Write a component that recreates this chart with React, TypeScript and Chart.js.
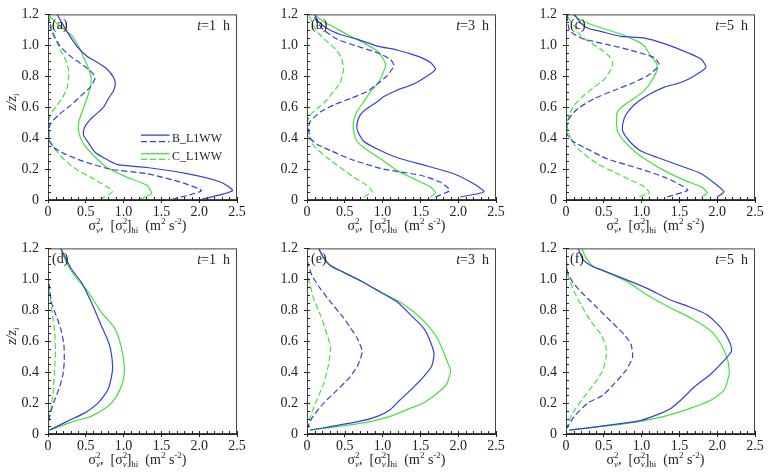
import React, { useEffect, useRef } from "react";
import { Chart, registerables } from "chart.js";

Chart.register(...registerables);

type Pt = [number, number]; // [sigma^2 value, z/zi]

// ---------- tick labels / categories ----------
const xTickValues = [0, 0.5, 1.0, 1.5, 2.0, 2.5];
const xTickLabels = ["0", "0.5", "1.0", "1.5", "2.0", "2.5"];
const yTickValues = [0, 0.2, 0.4, 0.6, 0.8, 1.0, 1.2];
const yTickLabels = ["0", "0.2", "0.4", "0.6", "0.8", "1.0", "1.2"];
const panelLabels = ["(a)", "(b)", "(c)", "(d)", "(e)", "(f)"];
const panelHours = ["1", "3", "5", "1", "3", "5"];
const seriesNames = ["B_L1WW", "C_L1WW"];

// ---------- panel (a) t=1 h ----------
const aBlueSolid: Pt[] = [[2.03,0.004],[2.44,0.06],[2.28,0.116],[1.84,0.17],[1.31,0.21],[0.91,0.23],[0.73,0.275],[0.625,0.307],[0.52,0.38],[0.47,0.42],[0.48,0.466],[0.54,0.51],[0.625,0.55],[0.735,0.6],[0.8,0.656],[0.87,0.71],[0.89,0.75],[0.87,0.79],[0.78,0.847],[0.65,0.89],[0.515,0.93],[0.38,0.995],[0.25,1.09],[0.12,1.2]];
const aBlueDash: Pt[] = [[1.64,0.004],[2.03,0.06],[1.75,0.116],[1.31,0.17],[0.82,0.2],[0.47,0.25],[0.21,0.3],[0.075,0.34],[0.02,0.38],[0.01,0.42],[0.03,0.49],[0.14,0.55],[0.295,0.61],[0.45,0.68],[0.56,0.73],[0.625,0.79],[0.58,0.825],[0.47,0.87],[0.295,0.93],[0.16,0.995],[0.05,1.09],[0.0,1.19]];
const aGreenSolid: Pt[] = [[1.2,0.004],[1.37,0.04],[1.31,0.095],[1.04,0.148],[0.78,0.21],[0.65,0.265],[0.54,0.32],[0.45,0.38],[0.405,0.445],[0.405,0.5],[0.45,0.57],[0.515,0.656],[0.56,0.73],[0.57,0.79],[0.54,0.847],[0.49,0.9],[0.43,0.97],[0.32,1.06],[0.25,1.09],[0.12,1.14],[0.02,1.19]];
const aGreenDash: Pt[] = [[0.69,0.004],[0.85,0.053],[0.78,0.085],[0.56,0.148],[0.34,0.21],[0.185,0.275],[0.075,0.34],[0.03,0.38],[0.01,0.42],[0.01,0.49],[0.03,0.55],[0.1,0.6],[0.185,0.656],[0.25,0.72],[0.27,0.78],[0.27,0.847],[0.23,0.91],[0.16,0.97],[0.1,1.04],[0.05,1.11],[0.01,1.19]];

// ---------- panel (b) t=3 h ----------
const bBlueSolid: Pt[] = [[2.03,0.02],[2.34,0.053],[2.2,0.106],[1.94,0.17],[1.59,0.22],[1.19,0.275],[0.93,0.33],[0.75,0.38],[0.67,0.445],[0.66,0.49],[0.705,0.55],[0.79,0.59],[0.93,0.635],[1.01,0.667],[1.19,0.71],[1.41,0.75],[1.63,0.815],[1.7,0.847],[1.63,0.89],[1.46,0.93],[1.19,0.97],[0.93,0.995],[0.66,1.04],[0.44,1.07],[0.26,1.11],[0.13,1.165],[0.11,1.2]];
const bBlueDash: Pt[] = [[1.7,0.02],[1.89,0.063],[1.76,0.116],[1.5,0.16],[1.01,0.2],[0.57,0.265],[0.31,0.32],[0.13,0.36],[0.044,0.4],[0.02,0.466],[0.044,0.51],[0.18,0.57],[0.35,0.614],[0.57,0.656],[0.79,0.7],[0.93,0.75],[1.06,0.804],[1.15,0.87],[1.1,0.91],[0.93,0.952],[0.66,0.995],[0.4,1.04],[0.22,1.1],[0.13,1.153],[0.09,1.2]];
const bGreenSolid: Pt[] = [[1.63,0.02],[1.7,0.047],[1.63,0.085],[1.41,0.138],[1.19,0.19],[1.01,0.254],[0.88,0.296],[0.75,0.34],[0.66,0.38],[0.617,0.445],[0.617,0.51],[0.66,0.57],[0.75,0.635],[0.84,0.7],[0.93,0.75],[0.99,0.804],[1.04,0.87],[1.01,0.91],[0.93,0.963],[0.75,1.016],[0.53,1.07],[0.35,1.12],[0.22,1.153],[0.09,1.2]];
const bGreenDash: Pt[] = [[0.75,0.02],[0.86,0.053],[0.79,0.095],[0.617,0.148],[0.44,0.21],[0.26,0.275],[0.11,0.34],[0.044,0.38],[0.02,0.42],[0.0,0.49],[0.044,0.55],[0.13,0.59],[0.24,0.635],[0.35,0.7],[0.44,0.76],[0.485,0.847],[0.46,0.91],[0.4,0.963],[0.26,1.027],[0.13,1.09],[0.066,1.153],[0.02,1.2]];

// ---------- panel (c) t=5 h ----------
const cBlueSolid: Pt[] = [[2.0,0.02],[2.09,0.053],[2.0,0.095],[1.79,0.17],[1.52,0.22],[1.21,0.275],[0.99,0.317],[0.84,0.38],[0.75,0.445],[0.75,0.49],[0.79,0.55],[0.9,0.614],[1.08,0.677],[1.3,0.73],[1.52,0.76],[1.7,0.804],[1.85,0.857],[1.79,0.91],[1.61,0.952],[1.34,1.005],[1.04,1.047],[0.73,1.058],[0.46,1.09],[0.29,1.11],[0.2,1.143],[0.11,1.2]];
const cBlueDash: Pt[] = [[1.34,0.02],[1.61,0.063],[1.52,0.095],[1.3,0.148],[0.99,0.2],[0.55,0.265],[0.24,0.34],[0.09,0.38],[0.02,0.42],[0.0,0.466],[0.044,0.53],[0.154,0.59],[0.375,0.656],[0.64,0.71],[0.9,0.76],[1.08,0.804],[1.19,0.847],[1.23,0.878],[1.17,0.92],[0.9,0.963],[0.55,1.005],[0.24,1.04],[0.11,1.07],[0.044,1.1],[0.02,1.165],[0.02,1.2]];
const cGreenSolid: Pt[] = [[1.79,0.02],[1.87,0.047],[1.79,0.085],[1.57,0.127],[1.3,0.19],[1.08,0.254],[0.9,0.317],[0.77,0.38],[0.68,0.445],[0.67,0.53],[0.68,0.57],[0.77,0.614],[0.9,0.656],[1.04,0.71],[1.12,0.76],[1.21,0.847],[1.19,0.89],[1.12,0.93],[1.04,0.995],[0.9,1.037],[0.68,1.08],[0.42,1.12],[0.29,1.143],[0.154,1.175],[0.09,1.2]];
const cGreenDash: Pt[] = [[0.97,0.02],[1.1,0.047],[1.04,0.085],[0.86,0.127],[0.64,0.18],[0.42,0.233],[0.24,0.296],[0.11,0.36],[0.044,0.42],[0.013,0.49],[0.044,0.55],[0.11,0.614],[0.24,0.677],[0.375,0.73],[0.51,0.783],[0.595,0.847],[0.617,0.89],[0.57,0.93],[0.46,0.974],[0.33,1.016],[0.2,1.058],[0.13,1.11],[0.044,1.165],[0.02,1.2]];

// ---------- panel (d) t=1 h ----------
const dBlueSolid: Pt[] = [[0.02,0.025],[0.26,0.083],[0.48,0.135],[0.66,0.2],[0.79,0.284],[0.85,0.4],[0.85,0.474],[0.81,0.58],[0.7,0.707],[0.57,0.855],[0.44,0.982],[0.31,1.067],[0.22,1.15],[0.17,1.2]];
const dBlueDash: Pt[] = [[0.0,0.03],[0.02,0.114],[0.088,0.22],[0.154,0.305],[0.2,0.39],[0.215,0.474],[0.21,0.58],[0.165,0.686],[0.088,0.79],[0.044,0.855],[0.022,0.94],[0.0,1.045],[0.0,1.2]];
const dGreenSolid: Pt[] = [[0.02,0.025],[0.35,0.083],[0.57,0.114],[0.79,0.178],[0.9,0.24],[0.99,0.336],[1.01,0.43],[0.97,0.56],[0.88,0.686],[0.7,0.79],[0.53,0.92],[0.35,1.024],[0.24,1.11],[0.17,1.2]];
const dGreenDash: Pt[] = [[0.0,0.03],[0.035,0.157],[0.066,0.262],[0.088,0.41],[0.097,0.537],[0.088,0.665],[0.053,0.79],[0.022,0.898],[0.0,0.982],[0.0,1.2]];

// ---------- panel (e) t=3 h ----------
const eBlueSolid: Pt[] = [[0.044,0.025],[0.705,0.083],[0.93,0.114],[1.1,0.157],[1.23,0.22],[1.37,0.284],[1.54,0.37],[1.65,0.44],[1.68,0.516],[1.63,0.6],[1.54,0.686],[1.37,0.77],[1.19,0.855],[0.97,0.918],[0.75,0.98],[0.485,1.045],[0.31,1.088],[0.22,1.14],[0.154,1.2]];
const eBlueDash: Pt[] = [[0.0,0.03],[0.066,0.104],[0.22,0.2],[0.4,0.284],[0.57,0.37],[0.68,0.453],[0.73,0.537],[0.66,0.622],[0.485,0.75],[0.31,0.855],[0.176,0.94],[0.066,1.024],[0.022,1.088],[0.0,1.13],[0.0,1.2]];
const eGreenSolid: Pt[] = [[0.044,0.025],[0.75,0.072],[1.1,0.114],[1.37,0.167],[1.54,0.2],[1.72,0.262],[1.85,0.326],[1.9,0.41],[1.85,0.474],[1.81,0.527],[1.72,0.622],[1.59,0.707],[1.41,0.79],[1.19,0.865],[0.97,0.918],[0.75,0.98],[0.485,1.045],[0.29,1.1],[0.2,1.15],[0.154,1.2]];
const eGreenDash: Pt[] = [[0.0,0.03],[0.044,0.114],[0.13,0.22],[0.22,0.326],[0.287,0.453],[0.31,0.56],[0.265,0.643],[0.176,0.77],[0.088,0.875],[0.044,0.96],[0.01,1.024],[0.0,1.2]];

// ---------- panel (f) t=5 h ----------
const fBlueSolid: Pt[] = [[0.044,0.025],[0.95,0.083],[1.21,0.125],[1.39,0.167],[1.52,0.22],[1.7,0.305],[1.92,0.39],[2.09,0.474],[2.19,0.537],[2.16,0.6],[2.05,0.686],[1.87,0.77],[1.63,0.823],[1.39,0.865],[1.08,0.94],[0.82,0.993],[0.55,1.045],[0.33,1.088],[0.22,1.13],[0.163,1.2]];
const fBlueDash: Pt[] = [[0.0,0.03],[0.11,0.114],[0.287,0.2],[0.485,0.25],[0.64,0.326],[0.79,0.41],[0.88,0.495],[0.86,0.58],[0.77,0.643],[0.595,0.728],[0.375,0.834],[0.2,0.918],[0.088,0.982],[0.022,1.045],[0.01,1.088],[0.0,1.2]];
const fGreenSolid: Pt[] = [[0.044,0.025],[0.86,0.072],[1.3,0.114],[1.65,0.167],[1.92,0.22],[2.09,0.284],[2.16,0.39],[2.14,0.474],[2.05,0.58],[1.92,0.665],[1.65,0.75],[1.39,0.813],[1.08,0.897],[0.82,0.982],[0.55,1.045],[0.35,1.088],[0.265,1.14],[0.207,1.2]];
const fGreenDash: Pt[] = [[0.0,0.03],[0.088,0.135],[0.24,0.24],[0.375,0.326],[0.485,0.41],[0.53,0.495],[0.53,0.56],[0.463,0.643],[0.33,0.728],[0.2,0.834],[0.11,0.918],[0.044,1.0],[0.013,1.045],[0.0,1.2]];

const panelSeries: Pt[][][] = [
  [aBlueSolid, aBlueDash, aGreenSolid, aGreenDash],
  [bBlueSolid, bBlueDash, bGreenSolid, bGreenDash],
  [cBlueSolid, cBlueDash, cGreenSolid, cGreenDash],
  [dBlueSolid, dBlueDash, dGreenSolid, dGreenDash],
  [eBlueSolid, eBlueDash, eGreenSolid, eGreenDash],
  [fBlueSolid, fBlueDash, fGreenSolid, fGreenDash],
];

// ---------- styling / layout ----------
const BLUE = "#3442d2";
const GREEN = "#45e23c";
const TEXT = "#222";
const FRAME = "#444";
const FONT = '"Liberation Serif", "Times New Roman", serif';
const CANVAS_W = 248;
const CANVAS_H = 238;
const panelPos: { left: number; top: number }[] = [
  { left: 0, top: 0 },
  { left: 259, top: 0 },
  { left: 518, top: 0 },
  { left: 0, top: 234 },
  { left: 259, top: 234 },
  { left: 518, top: 234 },
];

type Run = { t: string; s: number; dy: number; it?: boolean; noAdv?: boolean };

function runFont(r: Run) {
  return `${r.it ? "italic " : ""}${r.s}px ${FONT}`;
}

function drawRuns(ctx: CanvasRenderingContext2D, runs: Run[], x: number, y: number, align: "left" | "center" | "right") {
  ctx.save();
  ctx.textBaseline = "alphabetic";
  ctx.textAlign = "left";
  let total = 0;
  for (const r of runs) {
    ctx.font = runFont(r);
    if (!r.noAdv) total += ctx.measureText(r.t).width;
  }
  let cx = align === "left" ? x : align === "center" ? x - total / 2 : x - total;
  for (const r of runs) {
    ctx.font = runFont(r);
    ctx.fillText(r.t, cx, y + r.dy);
    if (!r.noAdv) cx += ctx.measureText(r.t).width;
  }
  ctx.restore();
}

const xTitleRuns: Run[] = [
  { t: "σ", s: 14, dy: 0 },
  { t: "2", s: 9, dy: -6, noAdv: true },
  { t: "v", s: 9, dy: 3, it: true },
  { t: ",  [σ", s: 14, dy: 0 },
  { t: "2", s: 9, dy: -6, noAdv: true },
  { t: "v", s: 9, dy: 3, it: true },
  { t: "]", s: 14, dy: 0 },
  { t: "hi", s: 9, dy: 3 },
  { t: "  (m", s: 14, dy: 0 },
  { t: "2", s: 9, dy: -6 },
  { t: " s", s: 14, dy: 0 },
  { t: "-2", s: 9, dy: -6 },
  { t: ")", s: 14, dy: 0 },
];

const yTitleRuns: Run[] = [
  { t: "z/z", s: 14, dy: 0, it: true },
  { t: "i", s: 9, dy: 3, it: true },
];

function makeDecorPlugin(idx: number) {
  return {
    id: "decor" + idx,
    afterDraw(chart: any) {
      const ctx: CanvasRenderingContext2D = chart.ctx;
      const { left, right, top, bottom } = chart.chartArea;
      const xs = chart.scales.x;
      const ys = chart.scales.y;
      ctx.save();
      // frame
      ctx.strokeStyle = FRAME;
      ctx.lineWidth = 1;
      ctx.strokeRect(left + 0.5, top + 0.5, right - left - 1, bottom - top - 1);
      // inward minor ticks
      ctx.strokeStyle = "#222";
      ctx.beginPath();
      for (let k = 0; k <= 24; k++) {
        const py = Math.round(ys.getPixelForValue(k * 0.05)) + 0.5;
        ctx.moveTo(left, py);
        ctx.lineTo(left + 3, py);
      }
      for (let k = 0; k <= 25; k++) {
        const px = Math.round(xs.getPixelForValue(k * 0.1)) + 0.5;
        ctx.moveTo(px, bottom);
        ctx.lineTo(px, bottom - 3);
      }
      ctx.stroke();
      ctx.fillStyle = TEXT;
      // panel label
      ctx.font = `14px ${FONT}`;
      ctx.textBaseline = "middle";
      ctx.textAlign = "left";
      ctx.fillText(panelLabels[idx], left + 4, top + 11);
      // time label
      drawRuns(ctx, [
        { t: "t", s: 14, dy: 0, it: true },
        { t: "=" + panelHours[idx] + "  h", s: 14, dy: 0 },
      ], right - 7, top + 16, "right");
      // x title
      drawRuns(ctx, xTitleRuns, (left + right) / 2 - 5, bottom + 30, "center");
      // y title
      if (idx % 3 === 0) {
        ctx.save();
        ctx.translate(16, (top + bottom) / 2 - 5);
        ctx.rotate(-Math.PI / 2);
        drawRuns(ctx, yTitleRuns, 0, 0, "center");
        ctx.restore();
      }
      // legend
      if (idx === 0) {
        const lx0 = left + 93;
        const lx1 = left + 121.5;
        const rows = [
          { c: BLUE, ys: top + 120.7, yd: top + 127.3, ty: top + 124, name: seriesNames[0] },
          { c: GREEN, ys: top + 139.3, yd: top + 145, ty: top + 142.5, name: seriesNames[1] },
        ];
        for (const r of rows) {
          ctx.strokeStyle = r.c;
          ctx.lineWidth = 1.3;
          ctx.setLineDash([]);
          ctx.beginPath();
          ctx.moveTo(lx0, r.ys);
          ctx.lineTo(lx1, r.ys);
          ctx.stroke();
          ctx.setLineDash([6, 3]);
          ctx.beginPath();
          ctx.moveTo(lx0, r.yd);
          ctx.lineTo(lx1, r.yd);
          ctx.stroke();
          ctx.setLineDash([]);
          ctx.fillStyle = TEXT;
          ctx.font = `12px ${FONT}`;
          ctx.textBaseline = "middle";
          ctx.textAlign = "left";
          ctx.fillText(r.name, lx1 + 2.5, r.ty);
        }
      }
      ctx.restore();
    },
  };
}

function Panel({ idx }: { idx: number }) {
  const ref = useRef<HTMLCanvasElement | null>(null);
  useEffect(() => {
    if (!ref.current) return;
    const series = panelSeries[idx];
    const styles = [
      { c: BLUE, dash: [] as number[] },
      { c: BLUE, dash: [6, 3] },
      { c: GREEN, dash: [] as number[] },
      { c: GREEN, dash: [6, 3] },
    ];
    const tickFont = { family: FONT, size: 14 };
    const chart = new Chart(ref.current, {
      type: "scatter",
      data: {
        datasets: series.map((pts, i) => ({
          label: (i < 2 ? seriesNames[0] : seriesNames[1]) + (i % 2 ? " hi" : ""),
          data: pts.map(([x, y]) => ({ x, y })),
          showLine: true,
          borderColor: styles[i].c,
          borderDash: styles[i].dash,
          borderWidth: 1.2,
          pointRadius: 0,
          tension: 0.2,
          fill: false,
        })),
      },
      options: {
        animation: false,
        responsive: false,
        maintainAspectRatio: false,
        events: [],
        layout: { padding: { left: 0, top: 11, right: 11, bottom: 0 } },
        plugins: { legend: { display: false }, tooltip: { enabled: false } },
        scales: {
          x: {
            type: "linear",
            min: 0,
            max: 2.5,
            afterBuildTicks: (s: any) => {
              s.ticks = xTickValues.map((v) => ({ value: v }));
            },
            afterFit: (s: any) => {
              s.height = 38;
            },
            ticks: {
              callback: (_v: any, i: number) => xTickLabels[i],
              font: tickFont,
              color: TEXT,
              padding: 1,
              maxRotation: 0,
              autoSkip: false,
            },
            grid: { drawOnChartArea: false, drawTicks: true, tickLength: 3, color: "#222" },
            border: { display: true, color: "#222", width: 1 },
          },
          y: {
            type: "linear",
            min: 0,
            max: 1.2,
            afterBuildTicks: (s: any) => {
              s.ticks = yTickValues.map((v) => ({ value: v }));
            },
            afterFit: (s: any) => {
              s.width = 48;
            },
            ticks: {
              callback: (_v: any, i: number) => yTickLabels[i],
              font: tickFont,
              color: TEXT,
              padding: 6,
              autoSkip: false,
            },
            grid: { drawOnChartArea: false, drawTicks: true, tickLength: 3, color: "#222" },
            border: { display: true, color: "#222", width: 1 },
          },
        },
      } as any,
      plugins: [makeDecorPlugin(idx)],
    });
    return () => chart.destroy();
  }, [idx]);
  const pos = panelPos[idx];
  return (
    <canvas
      ref={ref}
      width={CANVAS_W}
      height={CANVAS_H}
      style={{ position: "absolute", left: pos.left, top: pos.top, width: CANVAS_W, height: CANVAS_H, display: "block" }}
    />
  );
}

export default function App() {
  return (
    <div
      style={{
        position: "fixed",
        left: 0,
        top: 0,
        width: 768,
        height: 476,
        background: "#fff",
        overflow: "hidden",
      }}
    >
      {[0, 1, 2, 3, 4, 5].map((i) => (
        <Panel key={i} idx={i} />
      ))}
    </div>
  );
}
